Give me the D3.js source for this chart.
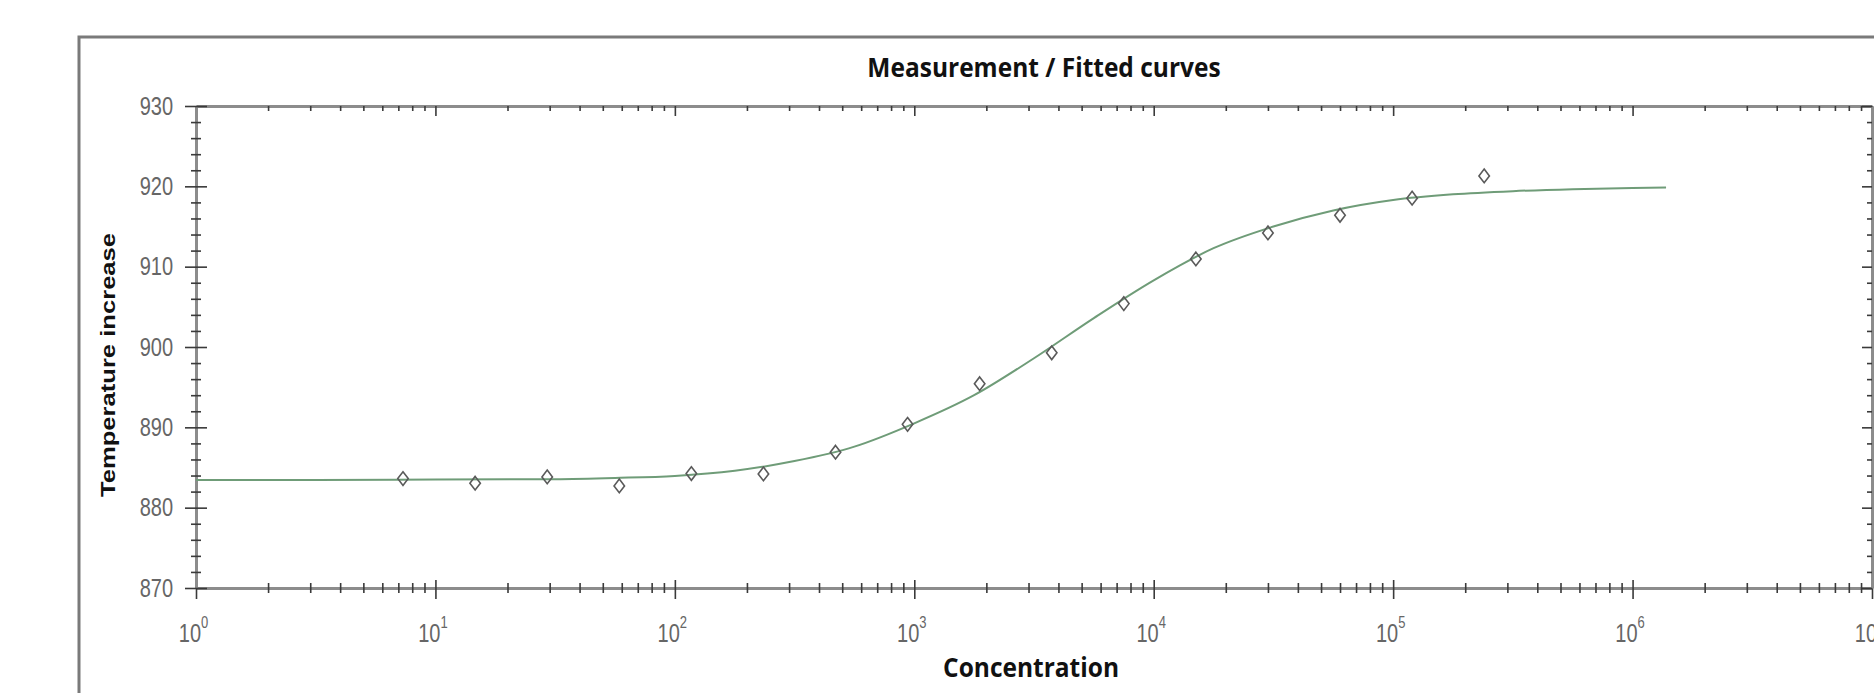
<!DOCTYPE html>
<html>
<head>
<meta charset="utf-8">
<script src="https://cdn.jsdelivr.net/npm/d3@7"></script>
<style>
  body { margin: 0; background: #fff; }
  svg { display: block; }
</style>
</head>
<body>
<div id="chart"></div>
<script>
// measurements: two-fold dilution series
const concentrations = [7.32, 14.65, 29.3, 58.6, 117.2, 234.4, 468.8, 937.5, 1875, 3750, 7500, 15000, 30000, 60000, 120000, 240000];
const measured = [883.62, 883.04, 883.83, 882.71, 884.25, 884.2, 886.9, 890.37, 895.43, 899.28, 905.4, 910.96, 914.2, 916.4, 918.53, 921.3];

// fitted curve at quarter-decade steps
const fitConc = [1, 3.16, 10, 31.6, 56.2, 100, 178, 316, 562, 1000, 1778, 3162, 5623, 10000, 17783, 31623, 56234, 100000, 177828, 316228, 562341, 1000000, 1380000];
const fitValues = [883.45, 883.45, 883.5, 883.55, 883.7, 883.95, 884.6, 885.8, 887.6, 890.5, 894.0, 898.6, 903.6, 908.3, 912.3, 915.0, 917.0, 918.3, 919.0, 919.4, 919.65, 919.8, 919.85];

// axes
const yMajor = [870, 880, 890, 900, 910, 920, 930];
const yMinor = [872, 874, 876, 878, 882, 884, 886, 888, 892, 894, 896, 898, 902, 904, 906, 908, 912, 914, 916, 918, 922, 924, 926, 928];
const xExponents = [0, 1, 2, 3, 4, 5, 6, 7];

const title = "Measurement / Fitted curves";
const xTitle = "Concentration";
const yTitle = "Temperature increase";

const W = 1874, H = 693;
const plot = {left: 196, right: 1872, top: 106, bottom: 588};
const stretch = 1.28;   // the source picture is squashed horizontally
const axisGray = "#8c8c8c";
const tickColor = "#3a3a3a";
const labelGray = "#666";

const svg = d3.select("#chart").append("svg")
    .attr("width", W)
    .attr("height", H);

// outer frame (only left and top visible)
svg.append("path")
    .attr("d", d3.line()([[79, H], [79, 37], [W, 37]]))
    .attr("fill", "none")
    .attr("stroke", "#7a7a7a")
    .attr("stroke-width", 3);

const x = d3.scaleLog().domain([1, 1e7]).range([plot.left, plot.right]);
const y = d3.scaleLinear().domain([870, 930]).range([plot.bottom, plot.top]);

const xDecades = xExponents.map(e => Math.pow(10, e));
const xMinor = [];
xExponents.slice(0, -1).forEach(e => {
    x.ticks().filter(t => t > Math.pow(10, e) && t < Math.pow(10, e + 1)).forEach(t => xMinor.push(t));
});

function styleTicks(g, a, b, width) {
    g.selectAll(".tick line")
        .attr("stroke", tickColor)
        .attr("stroke-width", width)
        .attr("x1", a[0]).attr("x2", a[1])
        .attr("y1", b[0]).attr("y2", b[1]);
}

function styleDomain(g) {
    g.select(".domain")
        .attr("stroke", axisGray)
        .attr("stroke-width", 3);
}

// ---- bottom axis ----
const bottomG = svg.append("g").attr("transform", `translate(0,${plot.bottom})`);
bottomG.append("g")
    .call(d3.axisBottom(x).tickValues(xMinor).tickSizeOuter(0).tickFormat(""))
    .call(styleDomain)
    .call(g => styleTicks(g, [0, 0], [-5, 5], 1.6));
bottomG.append("g")
    .call(d3.axisBottom(x).tickValues(xDecades).tickSizeOuter(0))
    .call(g => g.select(".domain").remove())
    .call(g => styleTicks(g, [0, 0], [-8, 11], 1.6))
    .call(g => {
        const t = g.selectAll(".tick text")
            .attr("y", null).attr("dy", null)
            .attr("fill", labelGray)
            .attr("font-family", "'Liberation Sans', Arial, sans-serif")
            .attr("font-size", 20)
            .attr("text-anchor", "middle")
            .attr("transform", `translate(-3,54) scale(1,${stretch})`)
            .text(null);
        t.append("tspan").text("10");
        t.append("tspan").attr("font-size", 13).attr("dy", -11).text(d => Math.round(Math.log10(d)));
    });

// ---- top axis (mirror, ticks inward) ----
const topG = svg.append("g").attr("transform", `translate(0,${plot.top})`);
topG.append("g")
    .call(d3.axisTop(x).tickValues(xMinor).tickSizeOuter(0).tickFormat(""))
    .call(styleDomain)
    .call(g => styleTicks(g, [0, 0], [0, 5], 1.6));
topG.append("g")
    .call(d3.axisTop(x).tickValues(xDecades).tickSizeOuter(0).tickFormat(""))
    .call(g => g.select(".domain").remove())
    .call(g => styleTicks(g, [0, 0], [0, 10], 1.6));

// ---- left axis ----
const leftG = svg.append("g").attr("transform", `translate(${plot.left},0)`);
leftG.append("g")
    .call(d3.axisLeft(y).tickValues(yMinor).tickSizeOuter(0).tickFormat(""))
    .call(styleDomain)
    .call(g => styleTicks(g, [-5, 5], [0, 0], 1.6));
leftG.append("g")
    .call(d3.axisLeft(y).tickValues(yMajor).tickSize(11).tickPadding(12).tickSizeOuter(0))
    .call(g => g.select(".domain").remove())
    .call(g => styleTicks(g, [-11, 11], [0, 0], 1.6))
    .call(g => g.selectAll(".tick text")
        .attr("fill", labelGray)
        .attr("font-family", "'Liberation Sans', Arial, sans-serif")
        .attr("font-size", 20)
        .attr("transform", `scale(1,${stretch})`));

// ---- right axis (mirror, ticks inward) ----
const rightG = svg.append("g").attr("transform", `translate(${plot.right},0)`);
rightG.append("g")
    .call(d3.axisRight(y).tickValues(yMinor).tickSizeOuter(0).tickFormat(""))
    .call(styleDomain)
    .call(g => styleTicks(g, [-5, 0], [0, 0], 1.6));
rightG.append("g")
    .call(d3.axisRight(y).tickValues(yMajor).tickSizeOuter(0).tickFormat(""))
    .call(g => g.select(".domain").remove())
    .call(g => styleTicks(g, [-10, 0], [0, 0], 1.6));

// ---- fitted curve ----
const fitData = fitConc.map((c, i) => ({c: c, v: fitValues[i]}));
svg.append("path")
    .datum(fitData)
    .attr("fill", "none")
    .attr("stroke", "#6f9c78")
    .attr("stroke-width", 2)
    .attr("d", d3.line()
        .x(d => x(d.c))
        .y(d => y(d.v))
        .curve(d3.curveMonotoneX));

// ---- measured points (open diamonds) ----
const tallDiamond = {
    draw(ctx, size) {
        const w = Math.sqrt(size) / 2, h = w * 1.3;
        ctx.moveTo(0, -h);
        ctx.lineTo(w, 0);
        ctx.lineTo(0, h);
        ctx.lineTo(-w, 0);
        ctx.closePath();
    }
};
const pointData = concentrations.map((c, i) => ({c: c, v: measured[i]}));
svg.append("g")
    .selectAll("path")
    .data(pointData)
    .join("path")
    .attr("transform", d => `translate(${x(d.c)},${y(d.v)})`)
    .attr("d", d3.symbol().type(tallDiamond).size(110))
    .attr("fill", "none")
    .attr("stroke", "#5a5a5a")
    .attr("stroke-width", 1.6);

// ---- titles ----
svg.append("text")
    .attr("transform", "translate(1044,77) scale(1,1.1)")
    .attr("text-anchor", "middle")
    .attr("font-family", "'Open Sans', sans-serif")
    .attr("font-weight", 700)
    .attr("font-size", 24.5)
    .attr("fill", "#111")
    .text(title);

svg.append("text")
    .attr("transform", "translate(1031,677) scale(1,1.1)")
    .attr("text-anchor", "middle")
    .attr("font-family", "'Open Sans', sans-serif")
    .attr("font-weight", 700)
    .attr("font-size", 24.5)
    .attr("fill", "#111")
    .text(xTitle);

svg.append("text")
    .attr("transform", `translate(115,365) rotate(-90) scale(${stretch},1)`)
    .attr("text-anchor", "middle")
    .attr("font-family", "'Liberation Sans', Arial, sans-serif")
    .attr("font-weight", 700)
    .attr("font-size", 20)
    .attr("fill", "#111")
    .text(yTitle);
</script>
</body>
</html>
